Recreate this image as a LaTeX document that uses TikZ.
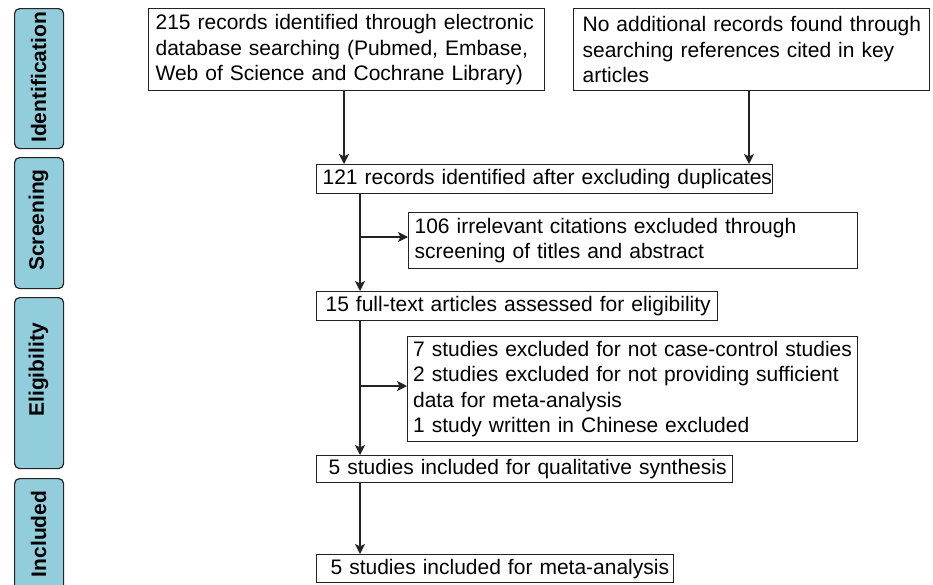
\documentclass[tikz,border=0pt]{standalone}
\usepackage{fontspec}
\setmainfont{Liberation Sans}
\usetikzlibrary{arrows.meta}
\definecolor{sideblue}{RGB}{146,205,220}
\definecolor{edge}{RGB}{35,35,35}
\newcommand\boxfont{\fontsize{21}{25.3}\selectfont}
\newcommand\sidefont{\fontsize{21}{24}\selectfont\bfseries}
\newcommand\oneln[1]{\mbox{#1}}
\tikzset{
  box/.style={draw=edge, line width=1.2pt, anchor=north west, align=left,
              inner ysep=0pt, font=\boxfont},
  sidebox/.style={draw=edge, fill=sideblue, line width=1.2pt, rounded corners=5pt,
              anchor=north west, inner sep=0pt, minimum width=49pt},
  sidetext/.style={rotate=90, font=\sidefont, inner sep=0pt},
  arr/.style={draw=edge, line width=1.3pt, -{Stealth[length=10pt,width=10pt,inset=2.5pt]}},
  link/.style={draw=edge, line width=1.3pt}
}
\begin{document}
\begin{tikzpicture}
\useasboundingbox (0,0) rectangle (933pt,-584pt);
\clip (0,0) rectangle (933pt,-584pt);

% side bars
\node[sidebox, minimum height=140pt] (s1) at (14pt,-8pt) {};
\node[sidebox, minimum height=131pt] (s2) at (14pt,-157pt) {};
\node[sidebox, minimum height=171pt] (s3) at (14pt,-297pt) {};
\node[sidebox, minimum height=115pt] (s4) at (14pt,-478pt) {};
\node[sidetext] (t1) at (38.5pt,-77.5pt) {Identification};
\node[sidetext] (t2) at (38.5pt,-220pt) {Screening};
\node[sidetext] (t3) at (38.5pt,-370pt) {Eligibility};
\node[sidetext] (t4) at (38.5pt,-534pt) {Included};

% boxes
\node[box, inner xsep=7pt, text width=382pt, minimum height=82pt] (a) at (148pt,-8pt)
  {\oneln{215 records identified through electronic}\\
   \oneln{database searching (Pubmed, Embase,}\\
   \oneln{Web of Science and Cochrane Library)}};
\node[box, inner xsep=9pt, text width=338pt, minimum height=82pt] (b) at (573pt,-8pt)
  {\oneln{No additional records found through}\\
   \oneln{searching references cited in key}\\
   \oneln{articles}};
\node[box, inner xsep=6pt, text width=444pt, minimum height=29pt] (c) at (316pt,-164pt)
  {\oneln{121 records identified after excluding duplicates}};
\node[box, inner xsep=6pt, text width=437pt, minimum height=56pt] (d) at (408pt,-212pt)
  {\oneln{106 irrelevant citations excluded through}\\
   \oneln{screening of titles and abstract}};
\node[box, inner xsep=9pt, text width=383pt, minimum height=29pt] (e) at (316pt,-291pt)
  {\oneln{15 full-text articles assessed for eligibility}};
\node[box, inner xsep=5.5pt, text width=439pt, minimum height=105pt] (f) at (407pt,-336pt)
  {\oneln{7 studies excluded for not case-control studies}\\
   \oneln{2 studies excluded for not providing sufficient}\\
   \oneln{data for meta-analysis}\\
   \oneln{1 study written in Chinese excluded}};
\node[box, inner xsep=12pt, text width=392pt, minimum height=27pt] (g) at (316pt,-455pt)
  {\oneln{5 studies included for qualitative synthesis}};
\node[box, inner xsep=14pt, text width=329pt, minimum height=28pt] (h) at (316pt,-554pt)
  {\oneln{5 studies included for meta-analysis}};

% connector helper coordinates
\coordinate (xa) at (344pt,0);
\coordinate (xb) at (749pt,0);
\coordinate (xm) at (360pt,0);
\coordinate (br1) at (360pt,-237pt);
\coordinate (br2) at (360pt,-386pt);

% connectors
\draw[arr] (a.south -| xa) -- (c.north -| xa);
\draw[arr] (b.south -| xb) -- (c.north -| xb);
\draw[arr] (c.south -| xm) -- (e.north -| xm);
\draw[arr] (br1) -- (br1 -| d.west);
\draw[arr] (e.south -| xm) -- (g.north -| xm);
\draw[arr] (br2) -- (br2 -| f.west);
\draw[arr] (g.south -| xm) -- (h.north -| xm);
\end{tikzpicture}
\end{document}
